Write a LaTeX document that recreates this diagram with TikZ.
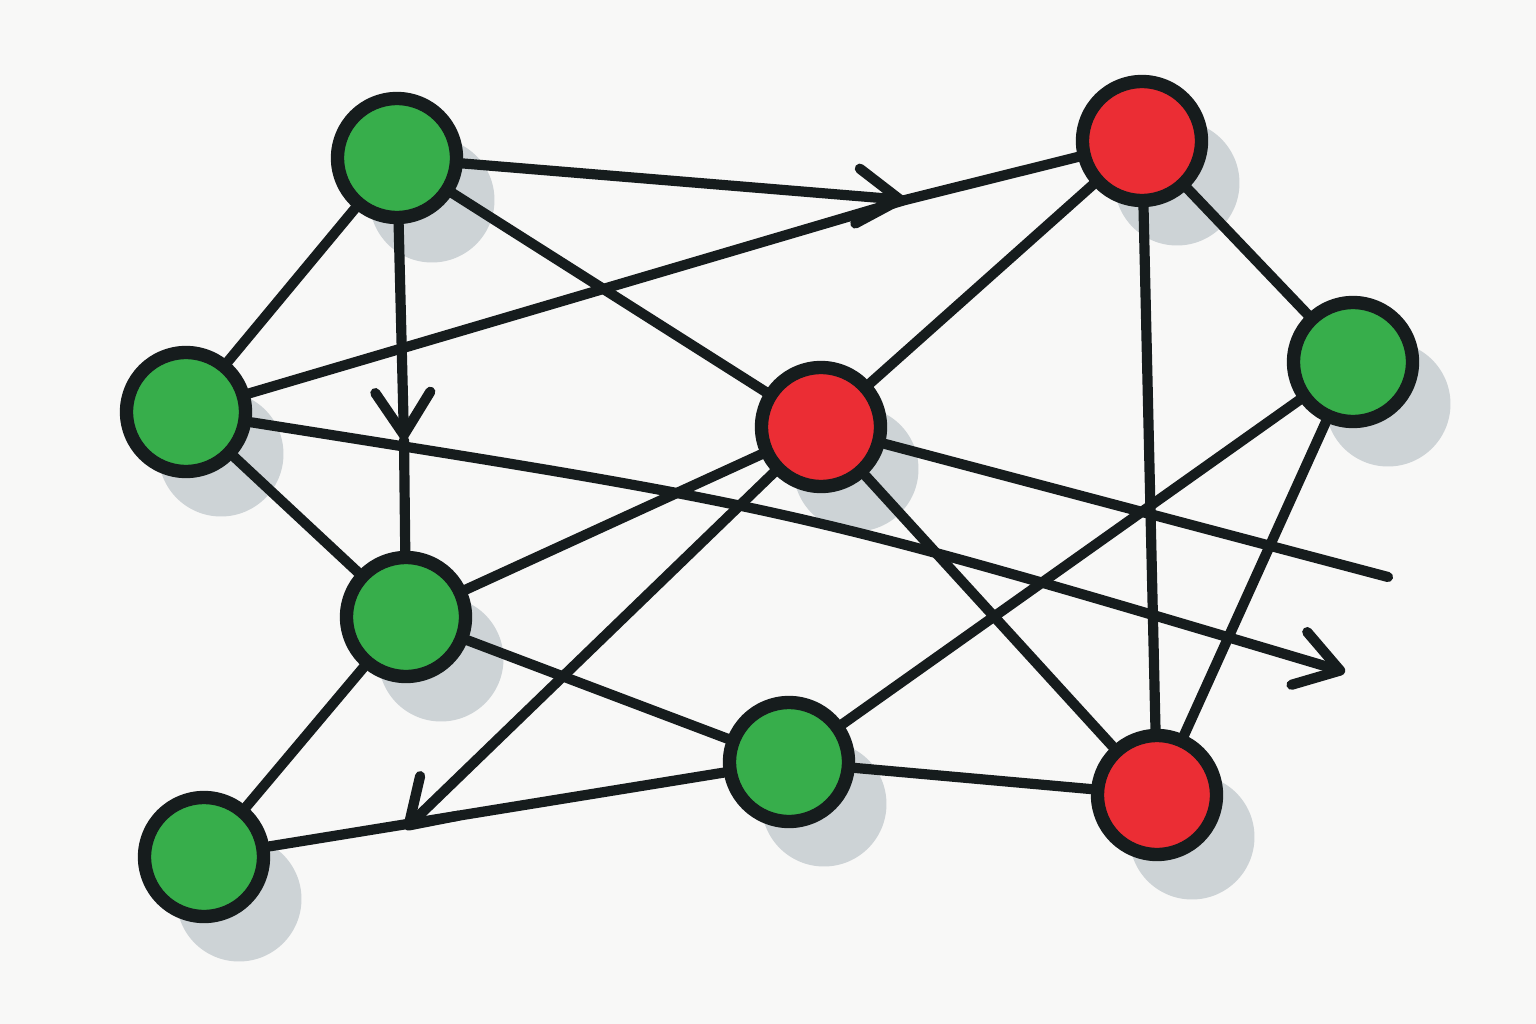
\documentclass[tikz,border=0pt]{standalone}
\usepackage{tikz}
\usetikzlibrary{arrows.meta}
\definecolor{nodegreen}{RGB}{55,174,75}
\definecolor{nodered}{RGB}{235,45,52}
\definecolor{inkdark}{RGB}{22,28,29}
\definecolor{shadowgray}{RGB}{205,211,214}
\definecolor{paper}{RGB}{248,248,247}

\begin{document}
\begin{tikzpicture}[x=0.02cm, y=-0.02cm, line cap=round, line join=round]
      \tikzstyle{edge} = [draw=inkdark, line width=5.8pt]
      \tikzstyle{arrow} = [edge, ->, >={Straight Barb[length=0.85cm, width=1.1cm, line cap=round, line join=round]}]
      \tikzstyle{vertex} = [circle, draw=inkdark, line width=7.6pt, minimum size=2.38cm, inner sep=0pt]
      \tikzstyle{good} = [vertex, fill=nodegreen]
      \tikzstyle{bad} = [vertex, fill=nodered]
      \tikzstyle{shade} = [circle, fill=shadowgray, minimum size=2.5cm, inner sep=0pt]

      \fill[paper] (0,0) rectangle (1536,1024);
      \useasboundingbox (0,0) rectangle (1536,1024);

      % shadows
      \foreach \i/\x/\y in {1/397/158, 2/186/412, 3/406/617, 4/204/857, 5/789/762,
                            6/1353/362, 7/1142/141, 8/821/427, 9/1157/795}
         \path[] node[shade] (S-\i) at (\x+35, \y+42) {};

      \foreach \i/\x/\y in {1/397/158, 2/186/412, 3/406/617, 4/204/857, 5/789/762, 6/1353/362}
         \path[] node[good] (G-\i) at (\x, \y) {};
      \foreach \i/\x/\y in {1/1142/141, 2/821/427, 3/1157/795}
         \path[] node[bad] (R-\i) at (\x, \y) {};

      \coordinate (J) at (905,200);
      \coordinate (M) at (404,440);
      \coordinate (T-1) at (1345,672);
      \coordinate (T-2) at (405,829);
      \coordinate (E) at (1388,577);

      \foreach \a/\b in {G-1/G-2, G-1/R-2, G-2/G-3, G-2/J, J/R-1, M/G-3, G-3/R-2, G-3/G-5,
                         G-3/G-4, G-4/G-5, R-2/R-1, R-2/E, R-2/R-3, R-1/R-3, R-1/G-6,
                         G-6/G-5, G-6/R-3, G-5/R-3}
         \draw [edge] (\a) -- (\b);

      \draw [arrow] (G-1) -- (M);
      \draw [arrow] (G-1) -- (J);
      \draw [arrow] (R-2) -- (T-2);
      \draw [arrow] (G-2) .. controls (794,508) .. (T-1);
\end{tikzpicture}
\end{document}
